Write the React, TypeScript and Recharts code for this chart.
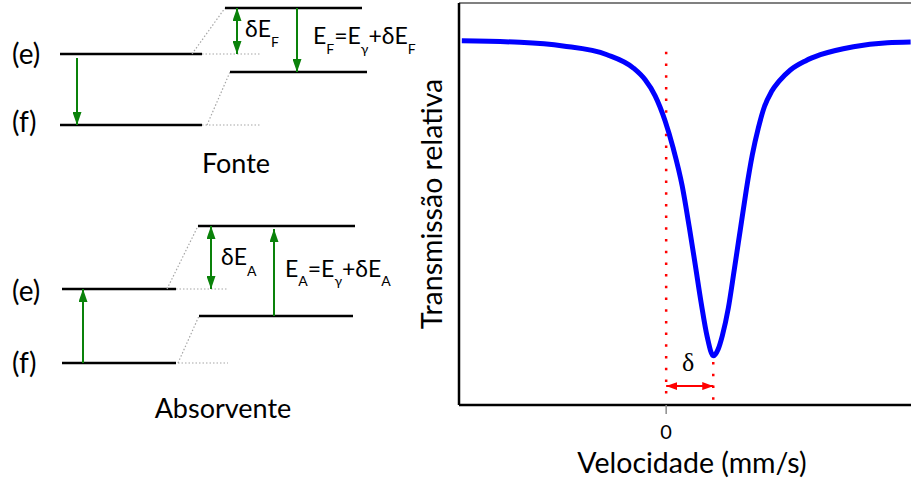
import {
  LineChart,
  Line,
  XAxis,
  YAxis,
  ReferenceLine,
  ReferenceDot,
  Label,
} from 'recharts';

const FONT = "Lato, 'Open Sans', sans-serif";
const SERIF = "'Liberation Serif', 'DejaVu Serif', serif";
const GREEN = '#0a820a';
const RED = '#ff0000';
const GUIDE = '#a6a6a6';

// espectro Mössbauer
const velocity = [
  -2.17, -1.553, -1.096, -0.628, -0.351, -0.223, -0.117, -0.011, 0.074, 0.17,
  0.245, 0.309, 0.372, 0.436, 0.5, 0.553, 0.596, 0.66, 0.723, 0.787, 0.851,
  0.915, 0.979, 1.043, 1.117, 1.202, 1.319, 1.479, 1.638, 1.989, 2.351, 2.596,
];
const transmission = [
  1.0, 0.996, 0.986, 0.962, 0.926, 0.893, 0.849, 0.78, 0.706, 0.602, 0.489,
  0.385, 0.28, 0.187, 0.135, 0.154, 0.19, 0.266, 0.371, 0.481, 0.591, 0.687,
  0.761, 0.819, 0.86, 0.89, 0.92, 0.945, 0.962, 0.984, 0.995, 0.997,
];
const velocityTicks = [0];
const isomerShift = 0.5; // δ

// níveis de energia (unidades arbitrárias): [e, f]
const fonteLevels = [431, 360];
const fonteShifted = [477, 413];
const absLevels = [196, 122];
const absShifted = [259, 169];

const spectrum = velocity.map((v, i) => ({ v, t: transmission[i] }));
const diagramFrame = [
  { x: 0, y: 0 },
  { x: 420, y: 485 },
];

type Part = [string, boolean];

function richText(parts: Part[], size: number, subSize: number, drop: number) {
  return (p: any) => (
    <text x={p.cx} y={p.cy} fontFamily={FONT} fontSize={size} fill="#000">
      {parts.map(([s, sub], i) => (
        <tspan key={i} y={sub ? p.cy + drop : p.cy} fontSize={sub ? subSize : size}>
          {s}
        </tspan>
      ))}
    </text>
  );
}

function centerText(value: string, size: number, family = FONT) {
  return (p: any) => (
    <text
      x={p.cx}
      y={p.cy}
      textAnchor="middle"
      dominantBaseline="central"
      fontFamily={family}
      fontSize={size}
      fill="#000"
    >
      {value}
    </text>
  );
}

function leftText(value: string, size: number) {
  return (p: any) => (
    <text x={p.cx} y={p.cy} dominantBaseline="central" fontFamily={FONT} fontSize={size} fill="#000">
      {value}
    </text>
  );
}

function arrow(color: string, head: string, both = false) {
  return (p: any) => (
    <line
      x1={p.x1}
      y1={p.y1}
      x2={p.x2}
      y2={p.y2}
      stroke={color}
      strokeWidth={2}
      markerEnd={`url(#${head})`}
      markerStart={both ? `url(#${head})` : undefined}
    />
  );
}

const seg = (x1: number, y1: number, x2: number, y2: number) => [
  { x: x1, y: y1 },
  { x: x2, y: y2 },
];

function EnergyDiagram() {
  const lvl = (x1: number, x2: number, e: number, k: string) => (
    <ReferenceLine key={k} segment={seg(x1, e, x2, e)} stroke="#000" strokeWidth={2.5} />
  );
  const guide = (x1: number, y1: number, x2: number, y2: number, k: string) => (
    <ReferenceLine
      key={k}
      segment={seg(x1, y1, x2, y2)}
      stroke={GUIDE}
      strokeWidth={1.2}
      strokeDasharray="1.5 2"
    />
  );
  return (
    <LineChart
      width={420}
      height={485}
      data={diagramFrame}
      margin={{ top: 0, right: 0, bottom: 0, left: 0 }}
      style={{ position: 'absolute', left: 0, top: 0 }}
    >
      <XAxis type="number" dataKey="x" domain={[0, 420]} hide />
      <YAxis type="number" domain={[0, 485]} hide />
      <Line dataKey="y" stroke="none" dot={false} activeDot={false} isAnimationActive={false} />

      {/* Fonte */}
      {lvl(60, 202, fonteLevels[0], 'fe')}
      {lvl(60, 202, fonteLevels[1], 'ff')}
      {guide(202, fonteLevels[0], 260, fonteLevels[0], 'fg1')}
      {guide(202, fonteLevels[1], 260, fonteLevels[1], 'fg2')}
      {guide(192, fonteLevels[0], 225, fonteShifted[0], 'fs1')}
      {guide(207, fonteLevels[1], 230, fonteShifted[1], 'fs2')}
      {lvl(225, 362, fonteShifted[0], 'fse')}
      {lvl(230, 367, fonteShifted[1], 'fsf')}
      <ReferenceLine segment={seg(77, fonteLevels[0] - 4, 77, fonteLevels[1])} shape={arrow(GREEN, 'gHead')} />
      <ReferenceLine segment={seg(237, fonteShifted[0], 237, fonteLevels[0])} shape={arrow(GREEN, 'gHead', true)} />
      <ReferenceLine segment={seg(297, fonteShifted[0], 297, fonteShifted[1])} shape={arrow(GREEN, 'gHead')} />

      {/* Absorvente */}
      {lvl(62, 176, absLevels[0], 'ae')}
      {lvl(62, 176, absLevels[1], 'af')}
      {guide(176, absLevels[0], 228, absLevels[0], 'ag1')}
      {guide(178, absLevels[1], 228, absLevels[1], 'ag2')}
      {guide(167, absLevels[0], 198, absShifted[0], 'as1')}
      {guide(178, absLevels[1], 199, absShifted[1], 'as2')}
      {lvl(198, 355, absShifted[0], 'ase')}
      {lvl(199, 353, absShifted[1], 'asf')}
      <ReferenceLine segment={seg(83, absLevels[1], 83, absLevels[0])} shape={arrow(GREEN, 'gHead')} />
      <ReferenceLine segment={seg(211, absShifted[0], 211, absLevels[0])} shape={arrow(GREEN, 'gHead', true)} />
      <ReferenceLine segment={seg(274, absShifted[1], 274, absShifted[0] - 3)} shape={arrow(GREEN, 'gHead')} />

      {/* textos */}
      <ReferenceDot x={12} y={432} r={0} shape={leftText('(e)', 28)} />
      <ReferenceDot x={12} y={364} r={0} shape={leftText('(f)', 28)} />
      <ReferenceDot x={12} y={195} r={0} shape={leftText('(e)', 28)} />
      <ReferenceDot x={12} y={123} r={0} shape={leftText('(f)', 28)} />
      <ReferenceDot
        x={245}
        y={448}
        r={0}
        shape={richText([['δE', false], ['F', true]], 23, 14, 10)}
      />
      <ReferenceDot
        x={313}
        y={441}
        r={0}
        shape={richText(
          [['E', false], ['F', true], ['=E', false], ['γ', true], ['+δE', false], ['F', true]],
          23,
          14,
          10
        )}
      />
      <ReferenceDot
        x={221}
        y={220}
        r={0}
        shape={richText([['δE', false], ['A', true]], 23, 14, 11)}
      />
      <ReferenceDot
        x={285}
        y={208}
        r={0}
        shape={richText(
          [['E', false], ['A', true], ['=E', false], ['γ', true], ['+δE', false], ['A', true]],
          23,
          14,
          9
        )}
      />
      <ReferenceDot x={236} y={323} r={0} shape={centerText('Fonte', 27)} />
      <ReferenceDot x={223} y={78} r={0} shape={centerText('Absorvente', 27)} />
    </LineChart>
  );
}

const xLabel = (props: any) => {
  const vb = props.viewBox;
  return (
    <text
      x={vb.x + vb.width / 2 + 7}
      y={vb.y + 68}
      textAnchor="middle"
      fontFamily={FONT}
      fontSize={28.5}
      fill="#000"
    >
      Velocidade (mm/s)
    </text>
  );
};

const yLabel = (props: any) => {
  const vb = props.viewBox;
  const x = vb.x + vb.width - 17;
  const y = vb.y + vb.height / 2;
  return (
    <text
      x={x}
      y={y}
      transform={`rotate(-90 ${x} ${y})`}
      textAnchor="middle"
      fontFamily={FONT}
      fontSize={28.5}
      fill="#000"
    >
      Transmissão relativa
    </text>
  );
};

function Spectrum() {
  return (
    <LineChart
      width={911}
      height={485}
      data={spectrum}
      margin={{ top: 3, right: 0, bottom: 0, left: 0 }}
      style={{ position: 'absolute', left: 0, top: 0 }}
    >
      <XAxis
        type="number"
        dataKey="v"
        domain={[-2.2, 2.6]}
        ticks={velocityTicks}
        allowDataOverflow
        height={80}
        tickSize={9}
        tickMargin={11}
        tickLine={{ stroke: '#8c8c8c', strokeWidth: 1.5 }}
        axisLine={{ stroke: '#000', strokeWidth: 2.5 }}
        tick={{ fill: '#000', fontSize: 20, fontFamily: FONT }}
      >
        <Label content={xLabel} />
      </XAxis>
      <YAxis
        type="number"
        domain={[0, 1.104]}
        allowDataOverflow
        width={459}
        tick={false}
        tickLine={false}
        axisLine={{ stroke: '#000', strokeWidth: 2.5 }}
      >
        <Label content={yLabel} />
      </YAxis>
      <ReferenceLine y={1.104} stroke="#808080" strokeWidth={2} />
      <ReferenceLine
        segment={seg(0, 0.97, 0, 0.012)}
        stroke={RED}
        strokeWidth={2.5}
        strokeDasharray="2.5 9.2"
      />
      <ReferenceLine
        segment={seg(isomerShift, 0.118, isomerShift, 0.012)}
        stroke={RED}
        strokeWidth={2.5}
        strokeDasharray="2.5 9.2"
      />
      <ReferenceLine
        segment={seg(0, 0.052, isomerShift, 0.052)}
        shape={arrow(RED, 'rHead', true)}
      />
      <ReferenceDot x={0.234} y={0.118} r={0} shape={centerText('δ', 26, SERIF)} />
      <Line
        type="monotone"
        dataKey="t"
        stroke="#0000ff"
        strokeWidth={5}
        dot={false}
        isAnimationActive={false}
      />
    </LineChart>
  );
}

export default function App() {
  return (
    <div style={{ position: 'absolute', left: 0, top: 0, width: 911, height: 485, background: '#fff' }}>
      <svg width={0} height={0} style={{ position: 'absolute' }}>
        <defs>
          <marker
            id="gHead"
            viewBox="0 0 10 10"
            refX={10}
            refY={5}
            markerWidth={13}
            markerHeight={9}
            markerUnits="userSpaceOnUse"
            preserveAspectRatio="none"
            orient="auto-start-reverse"
          >
            <path d="M0,0 L10,5 L0,10 z" fill={GREEN} />
          </marker>
          <marker
            id="rHead"
            viewBox="0 0 10 10"
            refX={10}
            refY={5}
            markerWidth={11}
            markerHeight={8}
            markerUnits="userSpaceOnUse"
            preserveAspectRatio="none"
            orient="auto-start-reverse"
          >
            <path d="M0,0 L10,5 L0,10 z" fill={RED} />
          </marker>
        </defs>
      </svg>
      <EnergyDiagram />
      <Spectrum />
    </div>
  );
}
